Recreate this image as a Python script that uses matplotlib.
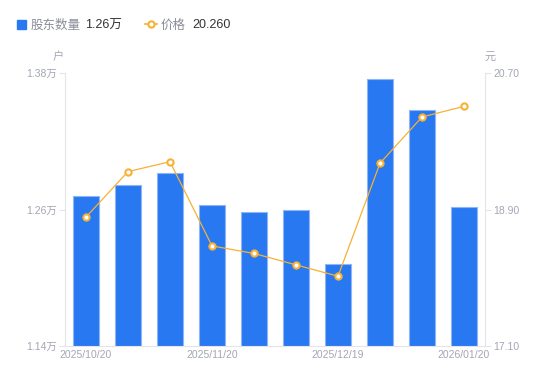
import matplotlib.pyplot as plt
from matplotlib.lines import Line2D

plt.rcParams['font.family'] = ['Liberation Sans', 'Noto Sans CJK SC', 'DejaVu Sans']

dates = ['2025/10/20', '', '', '2025/11/20', '', '', '2025/12/19', '', '', '2026/01/20']
holders = [1.2717, 1.2815, 1.2918, 1.2640, 1.2576, 1.2596, 1.2121, 1.3745, 1.3473, 1.2622]
price = [18.80, 19.40, 19.53, 18.42, 18.32, 18.17, 18.02, 19.51, 20.12, 20.26]

blue = '#2878f2'
orange = '#f7b134'
gray = '#a3a6b4'
axcol = '#e3e5ea'
cjk = ['Noto Sans CJK SC', 'DejaVu Sans']

fig = plt.figure(figsize=(5.5, 3.81), dpi=100)
ax = fig.add_axes([65 / 550, 35 / 381, 420 / 550, 273 / 381])
ax2 = ax.twinx()

x = list(range(len(holders)))
ax.bar(x, holders, width=0.6, color=blue, edgecolor='#8fb5f5', linewidth=0.8, zorder=2)
ax2.plot(x, price, color=orange, lw=0.9, marker='o', ms=4.5, mfc='white',
         mec=orange, mew=1.5, zorder=3)

ax.set_xlim(-0.5, len(holders) - 0.5)
ax.set_ylim(1.14, 1.38)
ax2.set_ylim(17.10, 20.70)
ax.set_yticks([1.14, 1.26, 1.38])
ax.set_yticklabels(['1.14万', '1.26万', '1.38万'])
ax2.set_yticks([17.10, 18.90, 20.70])
ax2.set_yticklabels(['17.10', '18.90', '20.70'])
ax.set_xticks(x)
ax.set_xticklabels(dates)

for a in (ax, ax2):
    for s in a.spines.values():
        s.set_visible(False)
ax.spines['left'].set_visible(True)
ax.spines['left'].set_color(axcol)
ax.spines['bottom'].set_visible(True)
ax.spines['bottom'].set_color(axcol)
ax2.spines['right'].set_visible(True)
ax2.spines['right'].set_color(axcol)

ax.tick_params(axis='y', colors=axcol, labelcolor=gray, labelsize=7.5, length=4, pad=2)
ax2.tick_params(axis='y', colors=axcol, labelcolor=gray, labelsize=7.5, length=4, pad=2)
ax.tick_params(axis='x', length=0, labelcolor=gray, labelsize=7.5, pad=3)

fig.text(58 / 550, 1 - 57 / 381, '户', color=gray, fontsize=8, ha='center', va='center', family=cjk)
fig.text(490 / 550, 1 - 57 / 381, '元', color=gray, fontsize=8, ha='center', va='center', family=cjk)

# legend
yb = 1 - 28.5 / 381
fig.patches.append(plt.Rectangle((17 / 550, 1 - 29 / 381), 9 / 550, 9 / 381,
                                 transform=fig.transFigure, color=blue, figure=fig))
fig.text(31 / 550, yb, '股东数量', color='#8a8d99', fontsize=9, va='baseline', family=cjk)
fig.text(85 / 550, yb, '1.26万', color='#333333', fontsize=9, va='baseline')
fig.lines.append(Line2D([145 / 550, 157 / 550], [1 - 24 / 381, 1 - 24 / 381],
                        transform=fig.transFigure, color=orange, lw=1.2))
fig.lines.append(Line2D([151 / 550], [1 - 24 / 381], transform=fig.transFigure,
                        color=orange, marker='o', ms=4.5, mfc='white', mew=1.5, lw=0))
fig.text(161 / 550, yb, '价格', color='#8a8d99', fontsize=9, va='baseline', family=cjk)
fig.text(192 / 550, yb, '20.260', color='#333333', fontsize=9, va='baseline')

fig.savefig('out.png', dpi=100)
